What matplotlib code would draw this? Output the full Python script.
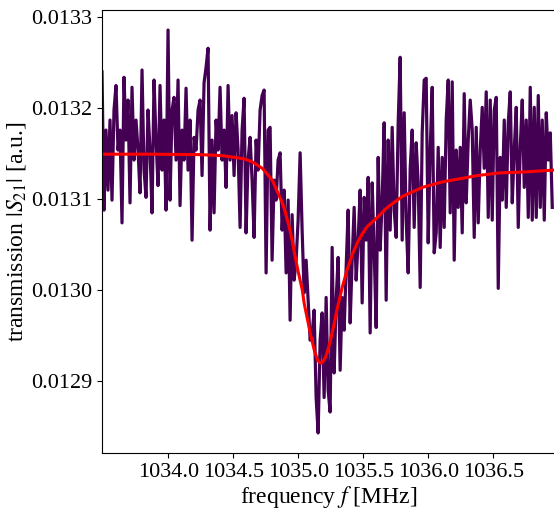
import numpy as np
import matplotlib
matplotlib.use('Agg')
import matplotlib.pyplot as plt
from matplotlib.ticker import FormatStrFormatter

plt.rcParams['font.family'] = ['Liberation Serif', 'DejaVu Serif']
plt.rcParams['mathtext.fontset'] = 'stix'
plt.rcParams['font.size'] = 16

# measured |S21|, in units of 1e-6 (frequency sweep is evenly spaced)
f_start, f_stop = 1033.49, 1036.954
s21_e6 = [
    13240, 13088, 13176, 13110, 13187, 13099, 13198, 13225, 13154, 13176,
    13074, 13234, 13165, 13209, 13096, 13223, 13143, 13187, 13154, 13107,
    13242, 13132, 13102, 13198, 13154, 13085, 13231, 13165, 13115, 13225,
    13132, 13187, 13088, 13286, 13099, 13198, 13212, 13143,
    13231, 13093, 13176, 13143, 13222, 13132, 13187, 13055, 13168, 13154,
    13198, 13209, 13126, 13228, 13245, 13266, 13066, 13165, 13085, 13187,
    13154, 13223, 13143, 13176, 13113, 13225, 13143, 13192, 13126, 13195,
    13154, 13069, 13176, 13211, 13063, 13143, 13168, 13121,
    13058, 13165, 13132, 13198, 13214, 13220, 13019, 13176, 13179, 13033,
    13121, 13099, 13143, 13151, 13066, 13110, 13019, 13099, 12967, 13083,
    13011, 13033, 13077, 13151, 13066, 12997, 13033, 12989, 12945, 12951,
    12978, 12882, 12843, 12945, 12975, 12882, 12992,
    12890, 12866, 13047, 12909, 12989, 13036, 12912, 12992, 12956, 13025,
    13088, 12964, 13033, 13091, 13011, 13055, 13110, 12986, 13102, 13055,
    13124, 12953, 13118, 13044, 12959, 13146, 13044, 13099, 13184, 12989,
    13165, 13066, 13179, 13088, 13058, 13184, 13256, 13055,
    13195, 13077, 13019, 13134, 13176, 13069, 13162, 13118, 13003, 13173,
    13231, 13233, 13052, 13154, 13223, 13041, 13063, 13157, 13047, 13146,
    13069, 13187, 13231, 13085, 13229, 13033, 13154, 13091, 13157, 13063,
    13216, 13096, 13165, 13209, 13176, 13058, 13179,
    13074, 13154, 13201, 13134, 13218, 13080, 13209, 13077, 13198, 13212,
    13002, 13146, 13099, 13187, 13091, 13184, 13218, 13096, 13154, 13201,
    13069, 13157, 13209, 13113, 13187, 13080, 13223, 13077, 13201, 13080,
    13214, 13091, 13187, 13077, 13195, 13143, 13173, 13091,
]

# fitted resonance curve
fit_freq = [1033.49, 1033.862, 1034.246, 1034.400, 1034.515, 1034.592, 1034.646,
            1034.723, 1034.800, 1034.877, 1034.900, 1034.931, 1034.954, 1034.977,
            1035.000, 1035.031, 1035.046, 1035.069, 1035.092, 1035.108, 1035.123,
            1035.146, 1035.154, 1035.169, 1035.177, 1035.192, 1035.208, 1035.223,
            1035.246, 1035.262, 1035.277, 1035.300, 1035.323, 1035.338, 1035.377,
            1035.415, 1035.454, 1035.492, 1035.531, 1035.608, 1035.685, 1035.800,
            1035.954, 1036.108, 1036.262, 1036.377, 1036.554, 1036.746, 1036.962]
fit_e6 = [13149.5, 13149.5, 13149, 13148, 13146, 13144, 13141,
          13134, 13121, 13096, 13086, 13069, 13054, 13036,
          13020, 13000, 12985, 12969, 12953, 12943, 12934,
          12924, 12922, 12920, 12920, 12922, 12926, 12932,
          12944, 12954, 12964, 12980, 12994, 13003, 13023,
          13039, 13052, 13062, 13070, 13080, 13091, 13103,
          13113, 13119, 13123, 13126, 13129, 13130, 13132]

freq = np.linspace(f_start, f_stop, len(s21_e6))
s21 = np.array(s21_e6) * 1e-6
fit = np.array(fit_e6) * 1e-6

fig = plt.figure(figsize=(5.54, 5.09), dpi=100, facecolor='white')
ax = fig.add_axes([102 / 554, 1 - 453 / 509, 453 / 554, 443 / 509])

ax.plot(freq, s21, color='#440154', linewidth=2.3)
ax.plot(fit_freq, fit, color='red', linewidth=2.2)

ax.set_xlim(1033.49, 1036.975)
ax.set_ylim(0.012821, 0.013308)
ax.set_xticks([1034.0, 1034.5, 1035.0, 1035.5, 1036.0, 1036.5])
ax.set_yticks([0.0129, 0.0130, 0.0131, 0.0132, 0.0133])
ax.xaxis.set_major_formatter(FormatStrFormatter('%.1f'))
ax.yaxis.set_major_formatter(FormatStrFormatter('%.4f'))

ax.set_xlabel(r'frequency $f$ [MHz]', fontsize=17, labelpad=2)
ax.set_ylabel(r'transmission $|S_{21}|$ [a.u.]', fontsize=17, labelpad=2)

fig.savefig('out.png', dpi=100)
